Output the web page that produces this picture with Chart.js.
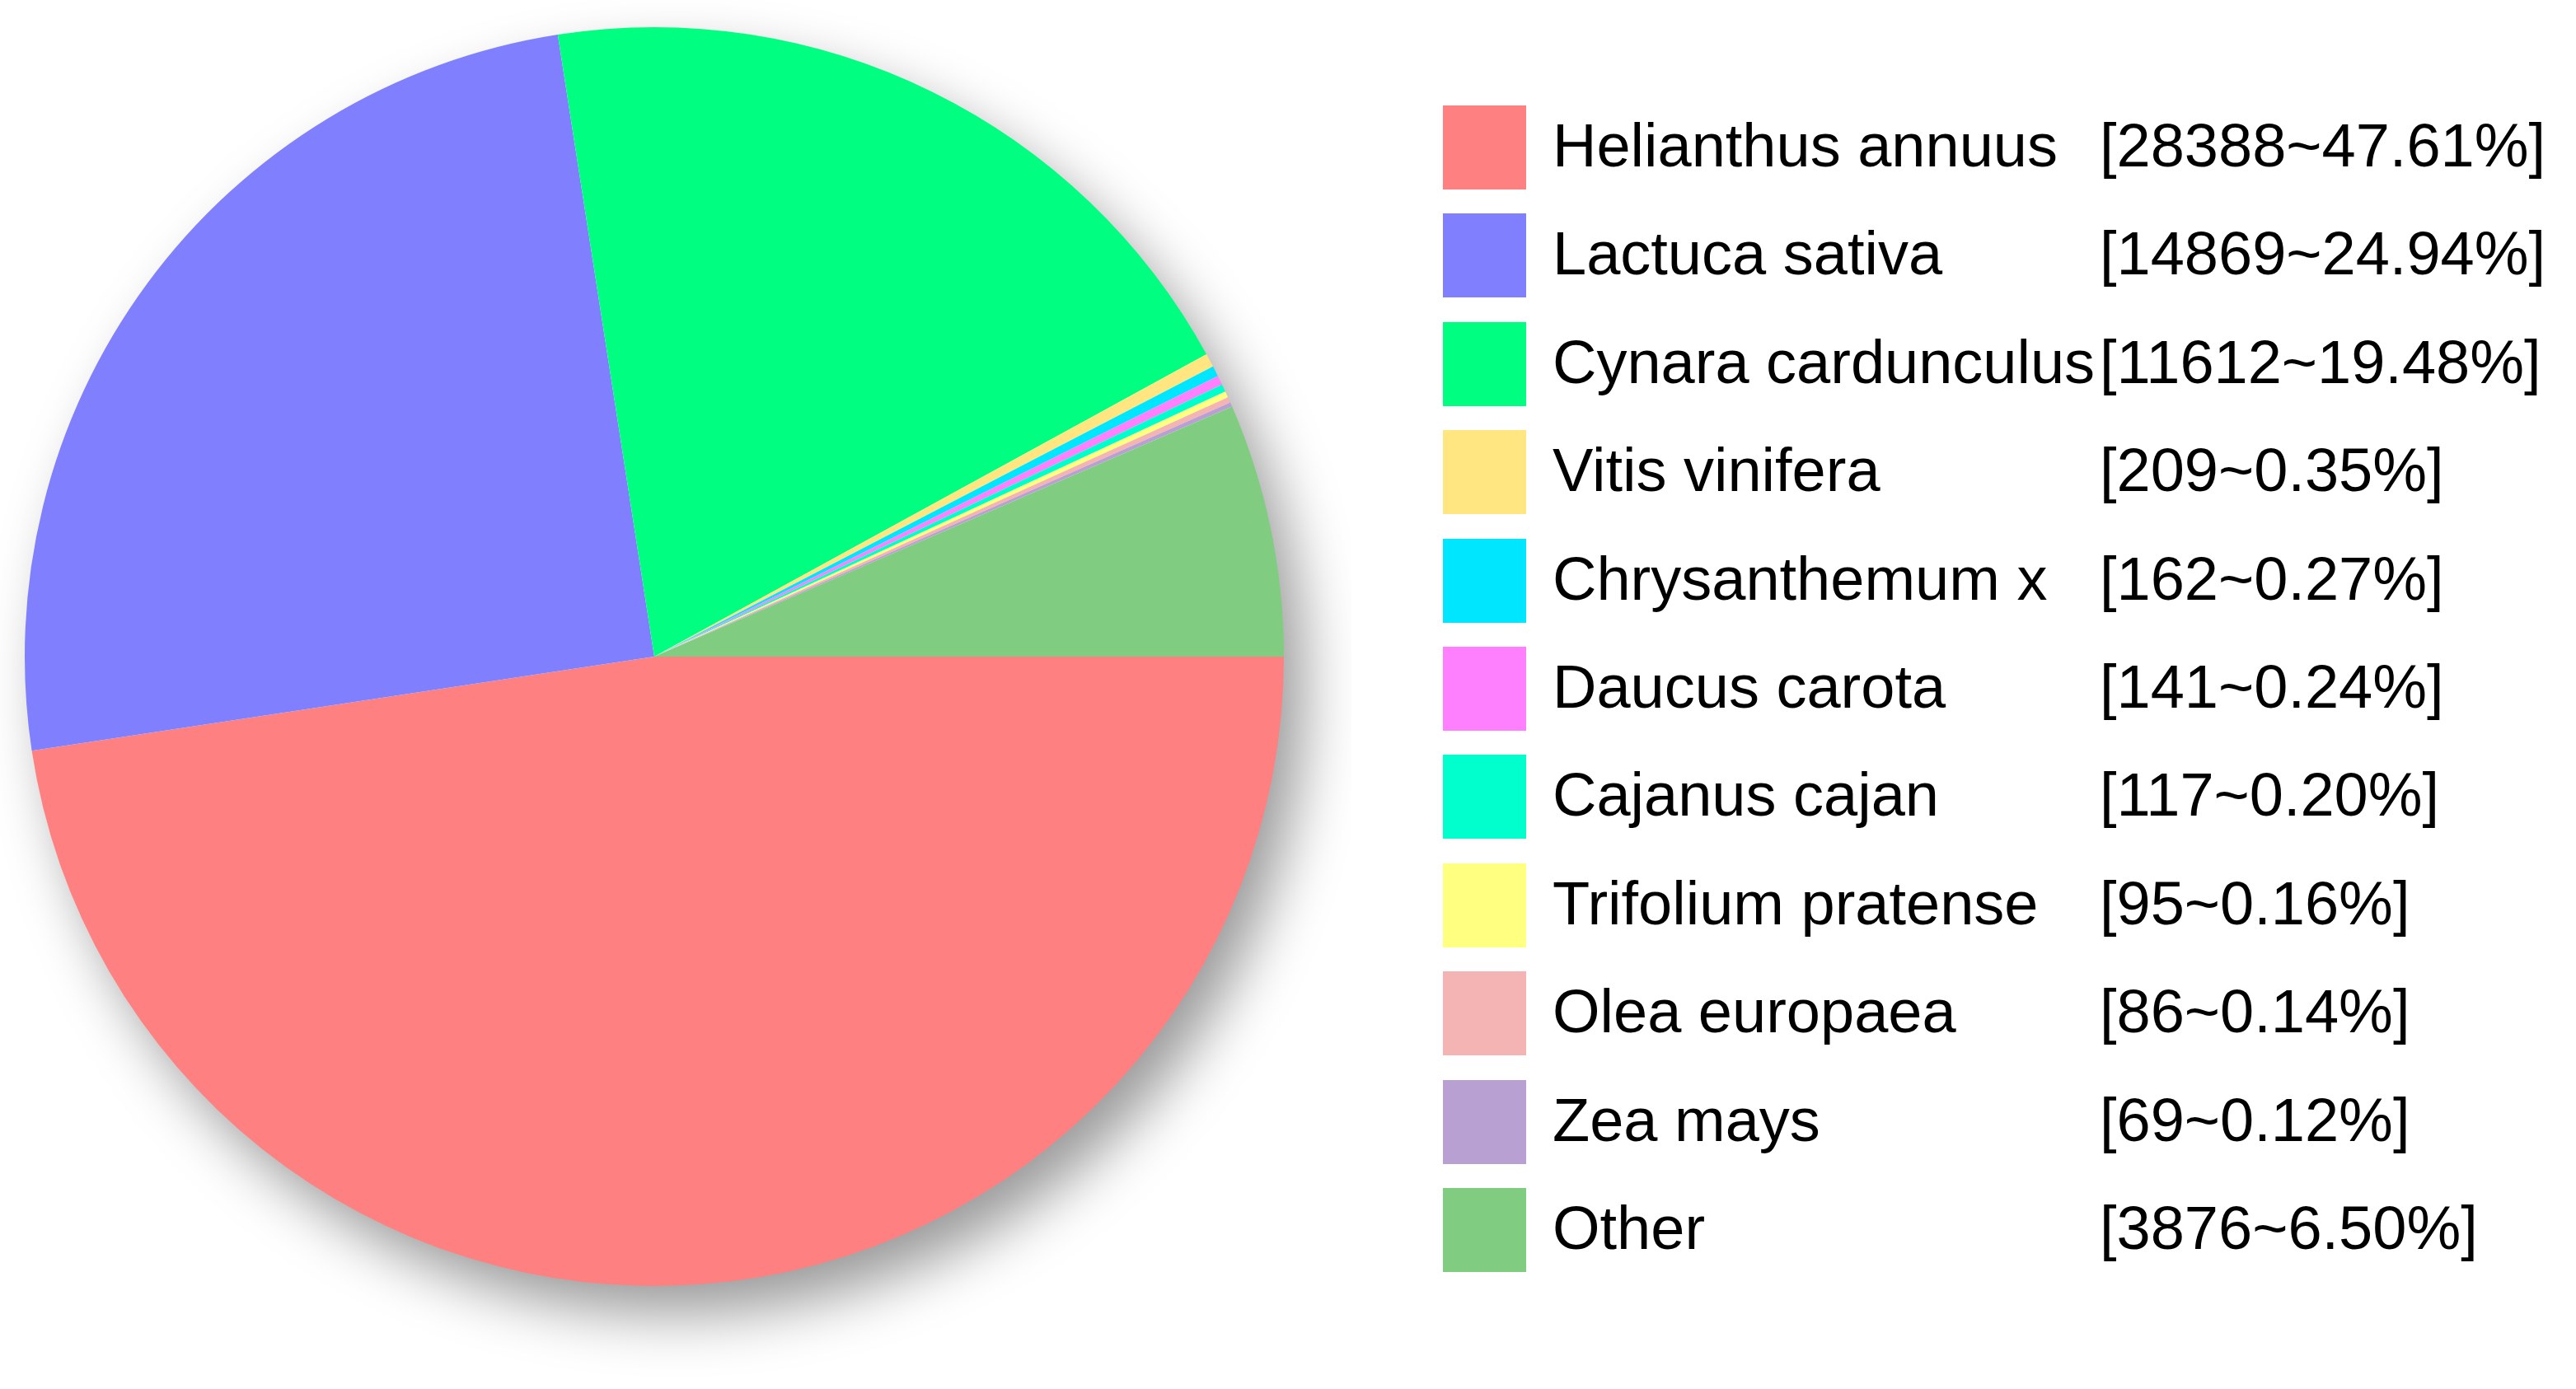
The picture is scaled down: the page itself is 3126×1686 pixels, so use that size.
<!DOCTYPE html>
<html>
<head>
<meta charset="utf-8">
<script src="https://cdn.jsdelivr.net/npm/chart.js@4/dist/chart.umd.min.js"></script>
<style>
  html, body { margin: 0; padding: 0; background: #ffffff; }
  body { width: 3126px; height: 1686px; position: relative; overflow: hidden; }
  #chartBox { position: absolute; left: 0; top: 0; width: 1640px; height: 1686px; }
  #legend { position: absolute; left: 1751px; top: 0; width: 1370px; height: 1686px;
            font-family: "Liberation Sans", Arial, sans-serif; font-size: 74px; color: #000; }
  .row { position: absolute; left: 0; height: 102px; width: 1370px; }
  .sw { position: absolute; left: 0; top: 0; width: 101px; height: 102px; }
  .nm { position: absolute; left: 133px; top: -2px; line-height: 102px; white-space: nowrap; }
  .vl { position: absolute; left: 797px; top: -2px; line-height: 102px; white-space: nowrap; }
</style>
</head>
<body>
<div id="chartBox"><canvas id="c"></canvas></div>
<div id="legend"></div>
<script>
const categories = ["Helianthus annuus", "Lactuca sativa", "Cynara cardunculus", "Vitis vinifera",
  "Chrysanthemum x", "Daucus carota", "Cajanus cajan", "Trifolium pratense", "Olea europaea",
  "Zea mays", "Other"];
const counts = [28388, 14869, 11612, 209, 162, 141, 117, 95, 86, 69, 3876];
const percentLabels = ["47.61%", "24.94%", "19.48%", "0.35%", "0.27%", "0.24%", "0.20%", "0.16%", "0.14%", "0.12%", "6.50%"];
const colors = ["#FF8080", "#8080FF", "#00FF80", "#FFE680", "#00E6FF", "#FF80FF", "#00FFCC",
  "#FFFF80", "#F4B4B4", "#B9A0D2", "#80CC80"];

const shadowPlugin = {
  id: 'pieShadow',
  beforeDatasetsDraw(chart) {
    const meta = chart.getDatasetMeta(0);
    if (!meta.data.length) return;
    const a = meta.data[0];
    const ctx = chart.ctx;
    ctx.save();
    ctx.shadowColor = 'rgba(0,0,0,0.40)';
    ctx.shadowBlur = 70;
    ctx.shadowOffsetX = 26;
    ctx.shadowOffsetY = 36;
    ctx.fillStyle = '#ffffff';
    ctx.beginPath();
    ctx.arc(a.x, a.y, a.outerRadius - 2, 0, Math.PI * 2);
    ctx.fill();
    ctx.restore();
  }
};

const chart = new Chart(document.getElementById('c'), {
  type: 'pie',
  data: {
    labels: categories,
    datasets: [{ data: counts, backgroundColor: colors, borderWidth: 0 }]
  },
  options: {
    responsive: true,
    maintainAspectRatio: false,
    animation: false,
    rotation: 90,
    layout: { padding: { left: 30, top: 33, right: 82, bottom: 125 } },
    plugins: { legend: { display: false }, tooltip: { enabled: false } }
  },
  plugins: [shadowPlugin]
});

const legend = document.getElementById('legend');
chart.data.labels.forEach((lab, i) => {
  const row = document.createElement('div');
  row.className = 'row';
  row.style.top = (128 + i * 131.4) + 'px';
  const sw = document.createElement('div');
  sw.className = 'sw';
  sw.style.background = chart.data.datasets[0].backgroundColor[i];
  const nm = document.createElement('div');
  nm.className = 'nm';
  nm.textContent = lab;
  const vl = document.createElement('div');
  vl.className = 'vl';
  vl.textContent = '[' + chart.data.datasets[0].data[i] + '~' + percentLabels[i] + ']';
  row.appendChild(sw); row.appendChild(nm); row.appendChild(vl);
  legend.appendChild(row);
});
</script>
</body>
</html>
